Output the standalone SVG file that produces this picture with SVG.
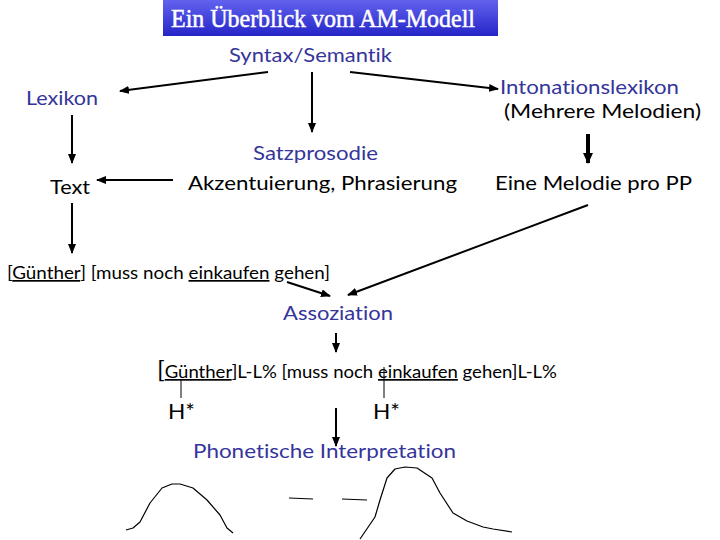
<svg xmlns="http://www.w3.org/2000/svg" width="720" height="540" viewBox="0 0 720 540">
<defs>
<linearGradient id="tg" x1="0" y1="0" x2="0" y2="1">
<stop offset="0" stop-color="#6262ee"/>
<stop offset="1" stop-color="#2525c8"/>
</linearGradient>
<marker id="ah" markerUnits="userSpaceOnUse" markerWidth="10" markerHeight="8" refX="9" refY="4" orient="auto">
<path d="M0,0 L10,4 L0,8 z" fill="#000"/>
</marker>
<marker id="ahb" markerUnits="userSpaceOnUse" markerWidth="12" markerHeight="10" refX="10" refY="5" orient="auto">
<path d="M0,0 L11,5 L0,10 z" fill="#000"/>
</marker>
<style>
text{font-family:Lato,"Open Sans","DejaVu Sans",sans-serif;fill:#000;font-variant-ligatures:none;font-feature-settings:"liga" 0}
.b{fill:#35359a}
.l{font-size:20px}
.c{stroke:#000;stroke-width:2;fill:none;marker-end:url(#ah)}
.u{text-decoration:underline}
.curve{stroke:#000;stroke-width:1.2;fill:none;stroke-linejoin:round}
</style>
</defs>
<g id="title">
<rect x="163" y="0" width="335" height="36" fill="url(#tg)"/>
<text x="171" y="27" textLength="304" lengthAdjust="spacingAndGlyphs" style="font-family:'Liberation Serif','DejaVu Serif',serif;font-size:25px;fill:#fff;stroke:#fff;stroke-width:0.5">Ein Überblick vom AM-Modell</text>
</g>
<g id="syntax"><text class="b l" x="229" y="62" textLength="163" lengthAdjust="spacingAndGlyphs">Syntax/Semantik</text></g>
<g id="lexikon"><text class="b l" x="26" y="105" textLength="72" lengthAdjust="spacingAndGlyphs">Lexikon</text></g>
<g id="intonationslexikon">
<text class="b l" x="500" y="94" textLength="179" lengthAdjust="spacingAndGlyphs">Intonationslexikon</text>
<text class="l" x="504" y="118" textLength="197" lengthAdjust="spacingAndGlyphs">(Mehrere Melodien)</text>
</g>
<g id="satzprosodie">
<text class="b l" x="253" y="160" textLength="125" lengthAdjust="spacingAndGlyphs">Satzprosodie</text>
<text class="l" x="188" y="190" textLength="269" lengthAdjust="spacingAndGlyphs">Akzentuierung, Phrasierung</text>
</g>
<g id="text"><text class="l" x="50" y="194" textLength="40" lengthAdjust="spacingAndGlyphs">Text</text></g>
<g id="melodie"><text class="l" x="495" y="190" textLength="197" lengthAdjust="spacingAndGlyphs">Eine Melodie pro PP</text></g>
<g id="satz">
<text x="7" y="279" style="font-size:17px" textLength="323" lengthAdjust="spacingAndGlyphs">[<tspan class="u">Günther</tspan>] [muss noch <tspan class="u">einkaufen</tspan> gehen]</text>
</g>
<g id="assoziation"><text class="b l" x="283" y="320" textLength="110" lengthAdjust="spacingAndGlyphs">Assoziation</text></g>
<g id="annotiert">
<text x="157" y="378" style="font-size:17px" textLength="400" lengthAdjust="spacingAndGlyphs"><tspan style="font-size:23px">[</tspan><tspan class="u">Günther</tspan>]L-L% [muss noch <tspan class="u">einkaufen</tspan> gehen]L-L%</text>
<line x1="181" y1="380" x2="181" y2="398" stroke="#000" stroke-width="1"/>
<line x1="384" y1="367" x2="384" y2="398" stroke="#000" stroke-width="1"/>
<text x="168" y="419" style="font-size:22px" textLength="27" lengthAdjust="spacingAndGlyphs">H*</text>
<text x="373" y="419" style="font-size:22px" textLength="27" lengthAdjust="spacingAndGlyphs">H*</text>
</g>
<g id="phonetik"><text class="b l" x="193" y="458" textLength="263" lengthAdjust="spacingAndGlyphs">Phonetische Interpretation</text></g>
<g id="kontur">
<polyline class="curve" points="126,530 133,528 140,522 150,503 162,488 172,484 180,484 193,488 207,500 220,515 227,528 233,533"/>
<line class="curve" x1="289" y1="498" x2="313" y2="499"/>
<line class="curve" x1="342" y1="499" x2="367" y2="500"/>
<polyline class="curve" points="360,539 375,517 380,500 387,478 395,469 405,467 417,468 432,478 440,493 453,513 467,521 483,527 493,529 512,532"/>
</g>
<g id="connectors">
<line class="c" x1="268" y1="72" x2="120" y2="91"/>
<line class="c" x1="312" y1="72" x2="312" y2="132"/>
<line class="c" x1="350" y1="72" x2="498" y2="89"/>
<line class="c" x1="72" y1="115" x2="72" y2="163"/>
<line class="c" x1="173" y1="180" x2="97" y2="180"/>
<line class="c" x1="72" y1="203" x2="72" y2="253"/>
<line x1="588" y1="134" x2="588" y2="163" stroke="#000" stroke-width="4" marker-end="url(#ahb)"/>
<line class="c" x1="588" y1="205" x2="348" y2="295"/>
<line class="c" x1="287" y1="282" x2="330" y2="296"/>
<line class="c" x1="336" y1="333" x2="336" y2="352"/>
<line class="c" x1="336" y1="408" x2="336" y2="446"/>
</g>
</svg>
